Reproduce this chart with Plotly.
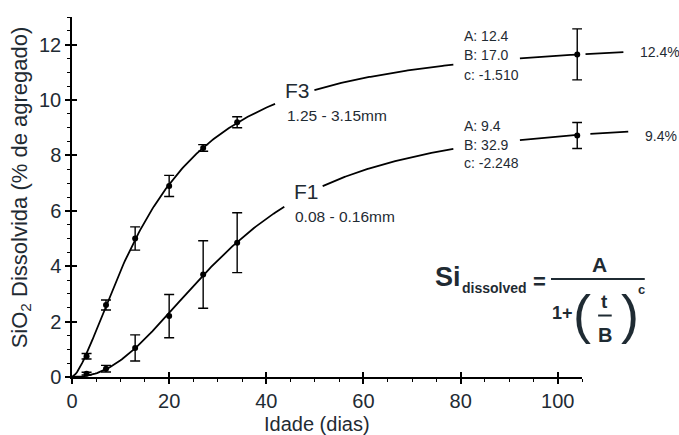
import numpy as np
import plotly.graph_objects as go

# Measured dissolved silica (% of aggregate) by age, with standard deviations
days = [3, 7, 13, 20, 27, 34, 104]
f3_mean = [0.75, 2.6, 5.0, 6.9, 8.27, 9.2, 11.65]
f3_err = [0.1, 0.18, 0.42, 0.38, 0.12, 0.2, 0.92]
f1_mean = [0.12, 0.3, 1.05, 2.2, 3.7, 4.85, 8.72]
f1_err = [0.05, 0.12, 0.47, 0.78, 1.22, 1.08, 0.47]

# Fitted model parameters: Si = A / (1 + (t/B)^c)
f3_fit = {"A": 12.4, "B": 17.0, "c": -1.510}
f1_fit = {"A": 9.4, "B": 32.9, "c": -2.248}

# Drawn stretches of each fitted curve (days); gaps leave room for labels
f3_spans = [(0, 41.8), (49.9, 78.5), (92.2, 104)]
f3_tail = (105.7, 113.5)
f1_spans = [(0, 43.7), (51.6, 78.5), (92.2, 104)]
f1_tail = (106.7, 114.5)

x_ticks = [0, 20, 40, 60, 80, 100]
y_ticks = [0, 2, 4, 6, 8, 10, 12]

INK = "#1f2b33"
FONT = "Liberation Sans, Arial, Helvetica, sans-serif"

W, H = 679, 435
ML, MR, MT, MB = 72, 5, 17, 58
PLOT_W = W - ML - MR
X_MAX, Y_MAX = 105, 13
PX_PER_DAY = 4.858
X_DOMAIN = X_MAX * PX_PER_DAY / PLOT_W
X2_MAX = PLOT_W / PX_PER_DAY


def model(t, p):
    t = np.asarray(t, dtype=float)
    with np.errstate(divide="ignore"):
        ratio = np.where(t > 0, (np.maximum(t, 1e-9) / p["B"]) ** p["c"], np.inf)
    return np.where(np.isfinite(ratio), p["A"] / (1 + ratio), 0.0)


def curve_xy(spans, p):
    xs, ys = [], []
    for a, b in spans:
        t = np.linspace(a, b, 120)
        xs += list(t) + [None]
        ys += list(model(t, p)) + [None]
    return xs, ys


fig = go.Figure()

for spans, tail, p in [(f3_spans, f3_tail, f3_fit), (f1_spans, f1_tail, f1_fit)]:
    cx, cy = curve_xy(spans, p)
    fig.add_trace(go.Scatter(x=cx, y=cy, mode="lines",
                             line=dict(color="black", width=1.8),
                             hoverinfo="skip", showlegend=False))
    tx, ty = curve_xy([tail], p)
    fig.add_trace(go.Scatter(x=tx, y=ty, mode="lines", xaxis="x2",
                             line=dict(color="black", width=1.8),
                             hoverinfo="skip", showlegend=False))

for mean, err in [(f3_mean, f3_err), (f1_mean, f1_err)]:
    fig.add_trace(go.Scatter(
        x=days, y=mean, mode="markers",
        marker=dict(color="black", size=6),
        error_y=dict(type="data", array=err, visible=True,
                     color="black", thickness=1.4, width=5),
        showlegend=False))

# carrier for the inward half of the major ticks
fig.add_trace(go.Scatter(x=[None], y=[None], xaxis="x3", yaxis="y2",
                         showlegend=False, hoverinfo="skip"))

axis_common = dict(showgrid=False, zeroline=False, showline=True,
                   linecolor="black", linewidth=1.5,
                   ticks="outside", ticklen=5, tickwidth=1.5, tickcolor="black",
                   tickfont=dict(family=FONT, size=20, color=INK))

fig.update_layout(
    width=W, height=H,
    margin=dict(l=ML, r=MR, t=MT, b=MB),
    paper_bgcolor="white", plot_bgcolor="rgba(0,0,0,0)",
    showlegend=False,
    font=dict(family=FONT, color=INK),
    xaxis=dict(domain=[0, X_DOMAIN], range=[0, X_MAX],
               tickvals=x_ticks,
               minor=dict(dtick=5, tick0=0, ticks="outside", ticklen=3,
                          tickwidth=1.2, tickcolor="black"),
               **axis_common),
    yaxis=dict(range=[0, Y_MAX], tickvals=y_ticks,
               minor=dict(dtick=0.5, tick0=0, ticks="outside", ticklen=3,
                          tickwidth=1.2, tickcolor="black"),
               **axis_common),
    # wider, hidden axis on the same scale for content right of the frame
    xaxis2=dict(domain=[0, 1], range=[0, X2_MAX], anchor="y",
                visible=False, fixedrange=True),
    xaxis3=dict(domain=[0, X_DOMAIN], range=[0, X_MAX], overlaying="x",
                anchor="y", tickvals=x_ticks, ticks="inside", ticklen=5,
                tickwidth=1.5, tickcolor="black", showticklabels=False,
                showline=False, showgrid=False, zeroline=False),
    yaxis2=dict(range=[0, Y_MAX], overlaying="y", anchor="x",
                tickvals=y_ticks, ticks="inside", ticklen=5,
                tickwidth=1.5, tickcolor="black", showticklabels=False,
                showline=False, showgrid=False, zeroline=False),
)


def label(text, x, y, size, xanchor="center", bold=False, xref="x2",
          yref="y", angle=0, yanchor="middle"):
    fig.add_annotation(text=f"<b>{text}</b>" if bold else text,
                       x=x, y=y, xref=xref, yref=yref,
                       xanchor=xanchor, yanchor=yanchor, textangle=angle,
                       showarrow=False,
                       font=dict(family=FONT, size=size, color=INK))


# axis titles
label("Idade (dias)", 50.4, -0.1306, 20, yref="paper", xref="x")
label("SiO<sub>2</sub> Dissolvida (% de agregado)", -0.0847, 6.85, 22,
      xref="paper", angle=-90)

# fraction labels
label("F3", 46.4, 10.36, 21)
label("1.25 - 3.15mm", 43.8, 9.45, 15.5, xanchor="left")
label("F1", 48.3, 6.69, 21)
label("0.08 - 0.16mm", 45.5, 5.79, 15.5, xanchor="left")

# fitted parameters
for i, line in enumerate([f"A: {f3_fit['A']:.1f}", f"B: {f3_fit['B']:.1f}",
                          f"c: {f3_fit['c']:.3f}"]):
    label(line, 80.2, 12.3 - i * 0.69, 14, xanchor="left")
for i, line in enumerate([f"A: {f1_fit['A']:.1f}", f"B: {f1_fit['B']:.1f}",
                          f"c: {f1_fit['c']:.3f}"]):
    label(line, 80.2, 9.06 - i * 0.67, 14, xanchor="left")

# asymptotes
label(f"{f3_fit['A']:.1f}%", 116.6, 11.75, 14, xanchor="left")
label(f"{f1_fit['A']:.1f}%", 117.5, 8.7, 14, xanchor="left")

# model equation
label("Si", 77.4, 3.61, 27, bold=True)
label("dissolved", 79.9, 3.2, 14, bold=True, xanchor="left")
label("=", 96.3, 3.45, 22, bold=True)
label("A", 108.5, 4.08, 21, bold=True)
label("1+", 101.0, 2.31, 18, bold=True)
label("(", 105.0, 2.29, 54)
label("t", 109.7, 2.72, 19, bold=True)
label("B", 109.7, 1.5, 20, bold=True)
label(")", 114.8, 2.29, 54)
label("c", 117.3, 3.16, 13, bold=True)

for x0, x1, y0 in [(98.6, 117.9, 3.54), (108.3, 111.1, 2.22)]:
    fig.add_shape(type="line", xref="x2", yref="y", x0=x0, x1=x1, y0=y0, y1=y0,
                  line=dict(color=INK, width=2))

fig.write_html("out.html")
